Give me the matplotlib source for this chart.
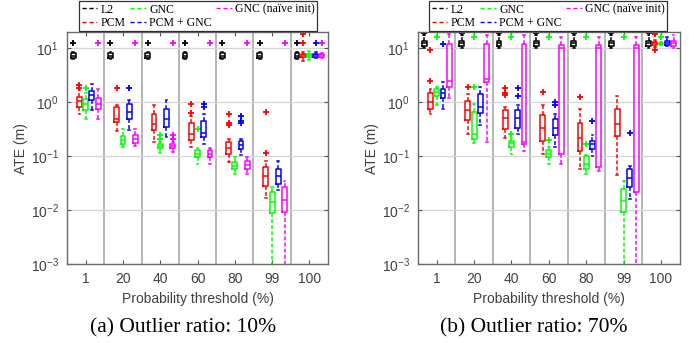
import matplotlib
matplotlib.use('Agg')
import matplotlib.pyplot as plt
from matplotlib.lines import Line2D
from matplotlib.ticker import NullLocator, LogLocator

plt.rcParams['font.family'] = 'Liberation Sans'

thresholds = ['1', '20', '40', '60', '80', '99', '100']
methods = ['L2', 'PCM', 'GNC', 'PCM + GNC', 'GNC (naïve init)']
colors = ['k', '#ff0000', '#00ff00', '#0000ff', '#ff00ff']

# each row: [whisker low, q1, median, q3, whisker high], one row per threshold
# ---- (a) outlier ratio 10% ----
l2_a = [[6.3, 6.6, 7.3, 8.1, 8.6], [6.3, 6.6, 7.3, 8.1, 8.6], [6.3, 6.6, 7.3, 8.1, 8.6],
        [6.3, 6.6, 7.3, 8.1, 8.6], [6.3, 6.6, 7.3, 8.1, 8.6], [6.3, 6.6, 7.3, 8.1, 8.6],
        [6.3, 6.6, 7.3, 8.1, 8.6]]
l2_a_out = [[12.7], [12.7], [12.7], [12.7], [12.7], [12.7], [12.7]]

pcm_a = [[0.6, 0.83, 1.06, 1.25, 1.69], [0.29, 0.43, 0.5, 0.83, 0.89], [0.18, 0.30, 0.39, 0.6, 0.88],
         [0.145, 0.198, 0.255, 0.42, 0.55], [0.078, 0.109, 0.139, 0.184, 0.21],
         [0.0171, 0.0275, 0.042, 0.063, 0.082], [5.9, 6.9, 7.4, 8.0, 8.5]]
pcm_a_out = [[1.85, 2.09], [1.84], [], [0.62, 0.93], [0.38, 0.41, 0.6], [0.117, 0.67], [12.4, 18.2]]

gnc_a = [[0.48, 0.72, 0.92, 1.17, 1.51], [0.151, 0.167, 0.2, 0.238, 0.326], [0.117, 0.139, 0.153, 0.167, 0.184],
         [0.071, 0.095, 0.11, 0.13, 0.14], [0.046, 0.057, 0.066, 0.077, 0.095],
         [1e-5, 0.0088, 0.0142, 0.0213, 0.0263], [6.2, 6.9, 7.4, 7.9, 9.0]]
gnc_a_out = [[1.84], [], [0.206, 0.245], [0.326], [], [], []]

pcmgnc_a = [[0.71, 1.1, 1.35, 1.62, 2.2], [0.31, 0.5, 0.66, 0.92, 1.09], [0.23, 0.35, 0.5, 0.76, 1.09],
            [0.167, 0.23, 0.275, 0.45, 0.6], [0.104, 0.135, 0.16, 0.192, 0.21],
            [0.024, 0.030, 0.042, 0.059, 0.081], [6.5, 7.0, 7.5, 8.0, 8.4]]
pcmgnc_a_out = [[], [1.84], [], [0.83, 0.93], [0.41, 0.44, 0.56], [], [12.4]]

naive_a = [[0.5, 0.74, 0.92, 1.19, 1.74], [0.155, 0.172, 0.206, 0.245, 0.326], [0.12, 0.14, 0.152, 0.165, 0.18],
           [0.071, 0.095, 0.112, 0.13, 0.14], [0.046, 0.059, 0.068, 0.08, 0.095],
           [1e-5, 0.0093, 0.0153, 0.0263, 0.035], [6.5, 7.0, 7.4, 7.9, 8.3]]
naive_a_out = [[12.4], [12.4], [0.21, 0.245, 12.4], [12.4], [12.4], [12.4], [12.7]]

# ---- (b) outlier ratio 70% ----
l2_b = [[10.3, 11.0, 12.4, 13.6, 17.5], [10.3, 11.0, 12.4, 13.6, 17.5], [10.3, 11.0, 12.4, 13.6, 17.5],
        [10.3, 11.0, 12.4, 13.6, 17.5], [10.3, 11.0, 12.4, 13.6, 17.5], [10.3, 11.0, 12.4, 13.6, 17.5],
        [10.3, 11.0, 12.4, 13.6, 17.5]]
l2_b_out = [[19.5], [19.5], [19.5], [19.5], [19.5], [19.5], [19.5]]

pcm_b = [[0.6, 0.76, 1.01, 1.47, 1.75], [0.255, 0.46, 0.71, 1.06, 1.4], [0.215, 0.326, 0.52, 0.71, 0.82],
         [0.109, 0.192, 0.34, 0.575, 0.88], [0.059, 0.125, 0.213, 0.41, 0.74],
         [0.044, 0.238, 0.403, 0.74, 1.31], [10.5, 11.5, 12.4, 13.2, 14.5]]
pcm_b_out = [[2.48, 9.2], [1.95], [1.34, 1.51, 1.87], [1.58], [1.25], [], [9.5, 18.5, 19.5]]

gnc_b = [[0.88, 1.31, 1.55, 1.79, 1.92], [0.174, 0.21, 0.255, 0.66, 0.92], [0.109, 0.145, 0.172, 0.192, 0.222],
         [0.071, 0.095, 0.112, 0.13, 0.151], [0.046, 0.059, 0.071, 0.099, 0.106],
         [1e-5, 0.0093, 0.0145, 0.025, 0.035], [11.6, 12.0, 12.4, 12.8, 13.2]]
gnc_b_out = [[16.4], [1.95, 16.4], [0.263, 16.4], [0.2, 16.4], [0.167, 16.4], [16.4], [16.4]]

pcmgnc_b = [[0.74, 1.19, 1.51, 1.79, 2.42], [0.375, 0.645, 0.82, 1.4, 1.95], [0.255, 0.34, 0.52, 0.71, 0.88],
            [0.145, 0.245, 0.34, 0.5, 0.6], [0.099, 0.135, 0.167, 0.192, 0.245],
            [0.016, 0.0263, 0.040, 0.057, 0.066], [11.0, 11.5, 12.6, 13.6, 16.4]]
pcmgnc_b_out = [[11.9], [], [1.31, 1.87], [0.88, 1.0], [0.45], [0.275], []]

naive_b = [[1.22, 1.95, 2.48, 11.9, 18.1], [0.184, 2.42, 2.67, 11.9, 18.0], [0.125, 0.167, 0.187, 11.9, 18.0],
           [0.073, 0.109, 10.0, 11.4, 16.4], [0.053, 0.062, 10.0, 11.4, 16.4],
           [1e-5, 0.0218, 10.0, 11.4, 16.4], [10.0, 11.0, 12.4, 13.6, 18.0]]
naive_b_out = [[], [], [], [], [], [], []]


def draw(ax, boxes, outs):
    for k, (rows, fl) in enumerate(zip(boxes, outs)):
        c = colors[k]
        stats = [dict(whislo=r[0], q1=r[1], med=r[2], q3=r[3], whishi=r[4], fliers=o)
                 for r, o in zip(rows, fl)]
        pos = [g + 1 + (k - 2) * 0.167 for g in range(len(rows))]
        ax.bxp(stats, positions=pos, widths=0.13, capwidths=0.05, manage_ticks=False,
               boxprops=dict(color=c, lw=1.1),
               whiskerprops=dict(color=c, lw=1.1, ls=(0, (2.5, 1.5))),
               capprops=dict(color=c, lw=1.1),
               medianprops=dict(color=c, lw=1.1),
               flierprops=dict(marker='+', markeredgecolor=c, markersize=3.8, mew=1.3))

    for g in range(1, len(thresholds)):
        ax.axvline(g + 0.5, color='#a8a8a8', lw=1.2, zorder=0)
    ax.set_yscale('log')
    ax.set_ylim(1e-3, 20)
    ax.set_xlim(0.5, len(thresholds) + 0.5)
    ax.yaxis.set_major_locator(LogLocator(base=10, numticks=10))
    ax.yaxis.set_minor_locator(NullLocator())
    ax.set_xticks(range(1, len(thresholds) + 1))
    ax.set_xticklabels(thresholds)
    ax.yaxis.grid(True, color='#d6d6d6', lw=0.9)
    ax.set_axisbelow(True)
    ax.tick_params(direction='in', top=True, right=True, length=3, color='#555555',
                   labelcolor='#404040', labelsize=10, pad=6)
    for s in ax.spines.values():
        s.set_color('#6a6a6a')
        s.set_linewidth(1.0)
    ax.set_xlabel('Probability threshold (%)', fontsize=10, color='#404040', labelpad=4)
    ax.set_ylabel('ATE (m)', fontsize=10, color='#404040', labelpad=2)


fig = plt.figure(figsize=(6.96, 3.43), dpi=100)
ax1 = fig.add_axes([0.0963, 0.2303, 0.375, 0.676])
ax2 = fig.add_axes([0.6006, 0.2303, 0.376, 0.676])

draw(ax1, [l2_a, pcm_a, gnc_a, pcmgnc_a, naive_a],
     [l2_a_out, pcm_a_out, gnc_a_out, pcmgnc_a_out, naive_a_out])
draw(ax2, [l2_b, pcm_b, gnc_b, pcmgnc_b, naive_b],
     [l2_b_out, pcm_b_out, gnc_b_out, pcmgnc_b_out, naive_b_out])

handles = [Line2D([], [], color=c, ls=(0, (3, 2)), lw=1) for c in colors]
for ax, cx in [(ax1, 0.285), (ax2, 0.788)]:
    leg = ax.legend(handles, methods, loc='upper center', bbox_to_anchor=(cx, 1.0),
                    bbox_transform=fig.transFigure, ncol=3,
                    prop={'family': 'Liberation Serif', 'size': 8.5},
                    fancybox=False, edgecolor='k', borderaxespad=0.1,
                    handlelength=1.3, handletextpad=0.3, columnspacing=0.4,
                    borderpad=0.2, labelspacing=0.1)
    leg.get_frame().set_linewidth(0.9)

fig.text(0.2637, 0.044, '(a) Outlier ratio: 10%', ha='center', va='center',
         family='Liberation Serif', size=15.5)
fig.text(0.7665, 0.044, '(b) Outlier ratio: 70%', ha='center', va='center',
         family='Liberation Serif', size=15.5)

fig.savefig('out.png', dpi=100)
